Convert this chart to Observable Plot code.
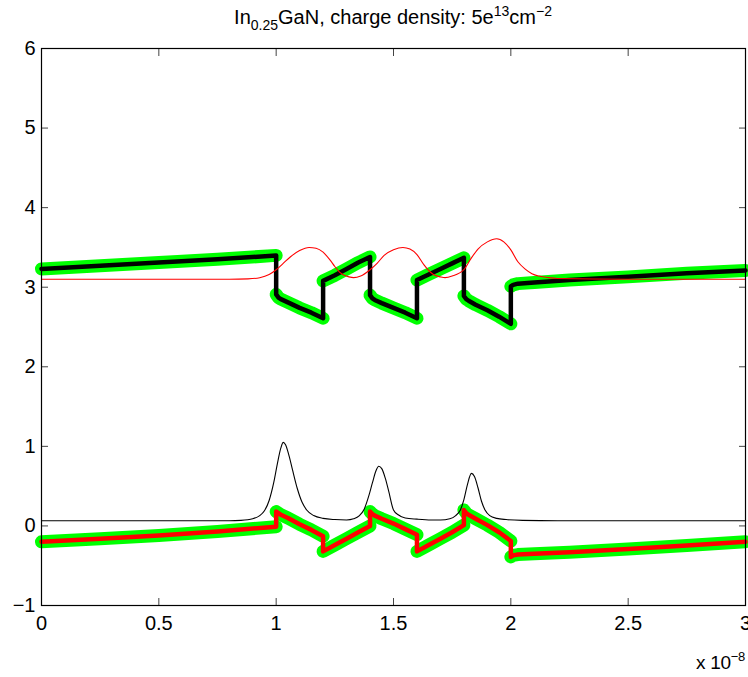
<!DOCTYPE html>
<html><head><meta charset="utf-8">
<script src="https://cdn.jsdelivr.net/npm/d3@7"></script>
<script src="https://cdn.jsdelivr.net/npm/@observablehq/plot@0.6"></script>
<style>
body{margin:0;background:#fff;}
#wrap{position:relative;width:748px;height:677px;overflow:hidden;font-family:"Liberation Sans",Arial,sans-serif;color:#000;}
#title{position:absolute;left:41px;width:704px;top:6px;text-align:center;font-size:20px;line-height:22px;white-space:nowrap;}
#title sub{font-size:14px;vertical-align:-6px;line-height:0;}
#title sup{font-size:14px;vertical-align:8px;line-height:0;}
#xexp{position:absolute;right:3px;top:652px;font-size:19px;line-height:22px;white-space:nowrap;letter-spacing:-0.3px;}
#xexp sup{font-size:13px;vertical-align:8px;line-height:0;}
</style></head>
<body><div id="wrap"><div id="chart"></div>
<div id="title">In<sub>0.25</sub>GaN, charge density: 5e<sup>13</sup>cm<sup>−2</sup></div>
<div id="xexp">x 10<sup>−8</sup></div></div>
<script>
// positions in units of 1e-8
const xTicks = [0, 0.5, 1, 1.5, 2, 2.5, 3];
const xTickLabels = ["0", "0.5", "1", "1.5", "2", "2.5", "3"];
const yTicks = [-1, 0, 1, 2, 3, 4, 5, 6];
const yTickLabels = ["\u22121", "0", "1", "2", "3", "4", "5", "6"];

// band profile samples (segment id separates the marker bands)
const bandX = [
  0, 0.25, 0.5, 0.75, 1.0,
  1.0, 1.01, 1.02, 1.05, 1.1, 1.15, 1.2,
  1.2, 1.25, 1.3, 1.35, 1.4,
  1.4, 1.41, 1.42, 1.45, 1.5, 1.55, 1.6,
  1.6, 1.65, 1.7, 1.75, 1.8,
  1.8, 1.81, 1.82, 1.85, 1.9, 1.95, 2.0,
  2.0, 2.01, 2.03, 2.1, 2.25, 2.5, 2.75, 3.0];
const bandSeg = [
  0, 0, 0, 0, 0,
  1, 1, 1, 1, 1, 1, 1,
  2, 2, 2, 2, 2,
  3, 3, 3, 3, 3, 3, 3,
  4, 4, 4, 4, 4,
  5, 5, 5, 5, 5, 5, 5,
  6, 6, 6, 6, 6, 6, 6, 6];
const cbE = [
  3.23, 3.27, 3.31, 3.35, 3.40,
  2.91, 2.87, 2.85, 2.81, 2.74, 2.68, 2.61,
  3.08, 3.15, 3.23, 3.31, 3.38,
  2.90, 2.86, 2.84, 2.80, 2.74, 2.68, 2.61,
  3.09, 3.16, 3.23, 3.30, 3.37,
  2.89, 2.85, 2.83, 2.78, 2.71, 2.63, 2.54,
  3.01, 3.03, 3.045, 3.06, 3.09, 3.13, 3.175, 3.21];
const vbE = [
  -0.20, -0.16, -0.12, -0.07, -0.01,
  0.18, 0.16, 0.14, 0.10, 0.02, -0.05, -0.13,
  -0.32, -0.24, -0.16, -0.08, 0.00,
  0.18, 0.15, 0.13, 0.09, 0.03, -0.04, -0.11,
  -0.32, -0.24, -0.16, -0.08, 0.01,
  0.20, 0.16, 0.14, 0.09, 0.01, -0.08, -0.19,
  -0.39, -0.37, -0.36, -0.35, -0.33, -0.29, -0.245, -0.20];

// thin red curve (upper)
const upperX = [0, 0.5, 0.8, 0.88, 0.93, 0.97, 1.0, 1.03, 1.06, 1.1, 1.14, 1.17, 1.2, 1.23, 1.25, 1.27, 1.29, 1.31, 1.33, 1.36, 1.4, 1.43, 1.46, 1.5, 1.54, 1.57, 1.6, 1.63, 1.65, 1.67, 1.7, 1.72, 1.75, 1.8, 1.83, 1.86, 1.9, 1.94, 1.97, 2.0, 2.03, 2.06, 2.09, 2.12, 2.16, 2.2, 2.5, 3.0];
const upperV = [3.10, 3.10, 3.10, 3.105, 3.12, 3.16, 3.22, 3.30, 3.38, 3.46, 3.50, 3.49, 3.44, 3.34, 3.26, 3.19, 3.15, 3.13, 3.12, 3.14, 3.22, 3.30, 3.40, 3.47, 3.50, 3.48, 3.41, 3.28, 3.21, 3.16, 3.13, 3.12, 3.14, 3.22, 3.36, 3.48, 3.57, 3.61, 3.57, 3.47, 3.32, 3.23, 3.17, 3.14, 3.12, 3.11, 3.10, 3.10];

// thin black curve (lower)
const lowerX = [0, 0.8, 0.85, 0.90, 0.93, 0.95, 0.97, 0.99, 1.005, 1.02, 1.03, 1.04, 1.055, 1.07, 1.09, 1.11, 1.13, 1.16, 1.2, 1.25, 1.30, 1.33, 1.355, 1.375, 1.395, 1.41, 1.425, 1.437, 1.45, 1.465, 1.48, 1.50, 1.52, 1.55, 1.6, 1.66, 1.70, 1.74, 1.765, 1.785, 1.80, 1.815, 1.832, 1.845, 1.86, 1.875, 1.89, 1.91, 1.94, 1.98, 2.05, 2.2, 3.0];
const lowerV = [0.065, 0.065, 0.07, 0.09, 0.13, 0.19, 0.32, 0.55, 0.78, 0.98, 1.05, 1.02, 0.88, 0.70, 0.47, 0.30, 0.20, 0.13, 0.095, 0.08, 0.075, 0.09, 0.13, 0.21, 0.38, 0.54, 0.69, 0.75, 0.72, 0.60, 0.43, 0.20, 0.14, 0.10, 0.085, 0.075, 0.075, 0.09, 0.13, 0.20, 0.33, 0.52, 0.66, 0.62, 0.48, 0.31, 0.20, 0.13, 0.095, 0.08, 0.07, 0.065, 0.065];

const band = bandX.map((x, i) => ({x, seg: bandSeg[i], cb: cbE[i], vb: vbE[i]}));
const upper = upperX.map((x, i) => ({x, v: upperV[i]}));
const lower = lowerX.map((x, i) => ({x, v: lowerV[i]}));

const green = "#00ff00";
const chart = Plot.plot({
  width: 748, height: 677,
  marginLeft: 41, marginRight: 3, marginTop: 48, marginBottom: 72,
  style: {fontFamily: "'Liberation Sans', Arial, sans-serif", fontSize: "20px", background: "white", overflow: "visible"},
  x: {domain: [0, 3], label: null},
  y: {domain: [-1, 6], label: null},
  marks: [
    Plot.line(band, {x: "x", y: "cb", z: "seg", stroke: green, strokeWidth: 13, strokeLinecap: "round", strokeLinejoin: "round"}),
    Plot.line(band, {x: "x", y: "vb", z: "seg", stroke: green, strokeWidth: 13, strokeLinecap: "round", strokeLinejoin: "round"}),
    Plot.line(band, {x: "x", y: "cb", stroke: "black", strokeWidth: 4.5, strokeLinejoin: "round"}),
    Plot.line(band, {x: "x", y: "vb", stroke: "#ff0000", strokeWidth: 4.5, strokeLinejoin: "round"}),
    Plot.line(upper, {x: "x", y: "v", stroke: "#ff0000", strokeWidth: 1.1, curve: "monotone-x"}),
    Plot.line(lower, {x: "x", y: "v", stroke: "black", strokeWidth: 1.1, curve: "monotone-x"}),
    Plot.axisX(xTicks, {anchor: "bottom", tickSize: -7, tickPadding: 17, stroke: "#444", tickFormat: d => xTickLabels[xTicks.indexOf(d)], label: null, fontSize: 20}),
    Plot.axisX(xTicks, {anchor: "top", tickSize: -7, stroke: "#444", tickFormat: () => "", label: null}),
    Plot.axisY(yTicks, {anchor: "left", tickSize: -7, tickPadding: 13, stroke: "#444", tickFormat: d => yTickLabels[yTicks.indexOf(d)], label: null, fontSize: 20}),
    Plot.axisY(yTicks, {anchor: "right", tickSize: -7, stroke: "#444", tickFormat: () => "", label: null}),
    Plot.frame({stroke: "black", strokeWidth: 1.2})
  ]
});
document.getElementById("chart").appendChild(chart);
</script>
</body></html>
